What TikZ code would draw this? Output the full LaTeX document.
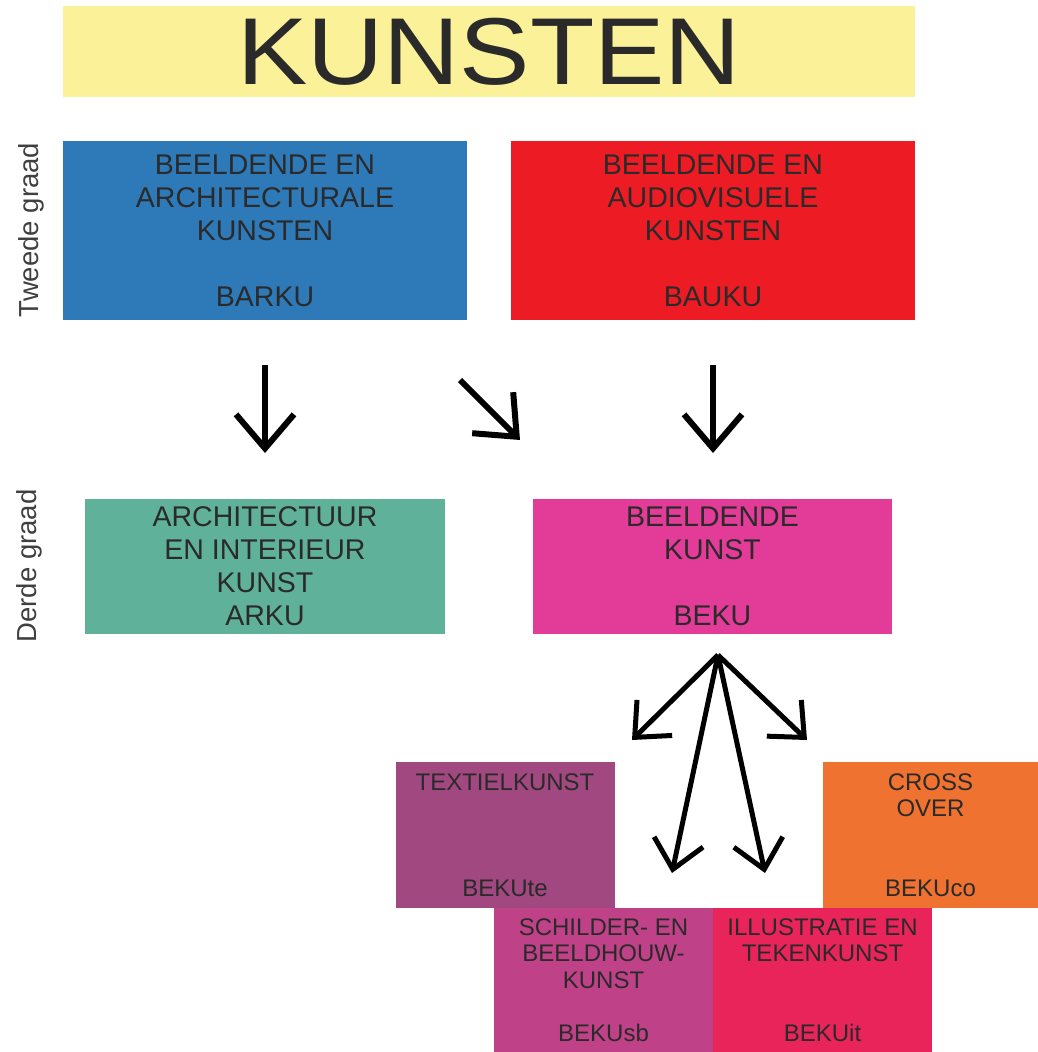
\documentclass[tikz,border=0pt]{standalone}
\usepackage{fontspec}
\setmainfont{Liberation Sans}
\usetikzlibrary{arrows.meta}
\definecolor{geel}{HTML}{FAF199}
\definecolor{blauw}{HTML}{2E79B8}
\definecolor{rood}{HTML}{ED1C24}
\definecolor{groen}{HTML}{5FB199}
\definecolor{roze}{HTML}{E23B98}
\definecolor{paars}{HTML}{A0487F}
\definecolor{oranje}{HTML}{F07230}
\definecolor{fuchsia}{HTML}{BF4288}
\definecolor{framboos}{HTML}{E8245A}
\definecolor{tekst}{HTML}{2B2A2A}
\tikzset{
    vak/.style = {
        rectangle,
        inner sep = 0pt,
        align = center,
        text = tekst,
        },
    groot/.style = {
        vak,
        font = \fontsize{28.5}{33}\selectfont,
        },
    klein/.style = {
        vak,
        font = \fontsize{24}{26.6}\selectfont,
        },
    graad/.style = {
        rotate = 90,
        text = tekst!90,
        font = \fontsize{27.5}{30}\selectfont,
        },
    pijl/.style = {
        draw = black,
        line width = 6pt,
        -{Straight Barb[length=34pt, width=58pt]},
        },
    pijl klein/.style = {
        draw = black,
        line width = 5pt,
        -{Straight Barb[length=28pt, width=50pt]},
        },
}

\begin{document}
\begin{tikzpicture}[x=1pt, y=-1pt]
            \useasboundingbox (0,0) rectangle (1038,1052);

            \node[vak, fill=geel, minimum width=852pt, minimum height=91pt,
                font=\fontsize{95}{95}\selectfont] (titel) at (489,51.5)
                {\scalebox{1.11}[1]{KUNSTEN}};

            \node[graad] (tweede) at (31,230) {Tweede graad};
            \node[graad] (derde) at (29,566) {Derde graad};

            \node[groot, fill=blauw, minimum width=404pt, minimum height=179pt] (barku) at (265,230.5)
                {BEELDENDE EN\\ARCHITECTURALE\\KUNSTEN\\[33pt]BARKU};
            \node[groot, fill=rood, minimum width=404pt, minimum height=179pt] (bauku) at (713,230.5)
                {BEELDENDE EN\\AUDIOVISUELE\\KUNSTEN\\[33pt]BAUKU};

            \node[groot, fill=groen, minimum width=360pt, minimum height=135pt] (arku) at (265,566.5)
                {ARCHITECTUUR\\EN INTERIEUR\\KUNST\\ARKU};
            \node[groot, fill=roze, minimum width=359pt, minimum height=135pt] (beku) at (712.5,566.5)
                {BEELDENDE\\KUNST\\[33pt]BEKU};

            \node[klein, fill=paars, minimum width=219pt, minimum height=146pt] (bekute) at (505,835)
                {TEXTIELKUNST\\[79.8pt]BEKUte};
            \node[klein, fill=oranje, minimum width=215pt, minimum height=146pt] (bekuco) at (930.5,835)
                {CROSS\\OVER\\[53.2pt]BEKUco};
            \node[klein, fill=fuchsia, minimum width=219pt, minimum height=144pt] (bekusb) at (603.5,980)
                {SCHILDER- EN\\BEELDHOUW-\\KUNST\\[26.6pt]BEKUsb};
            \node[klein, fill=framboos, minimum width=219pt, minimum height=144pt] (bekuit) at (822.5,980)
                {ILLUSTRATIE EN\\TEKENKUNST\\[53.2pt]BEKUit};

            % pijlen tweede naar derde graad
            \coordinate (p1) at (265,365);
            \coordinate (q1) at (265,453);
            \coordinate (p2) at (460,380);
            \coordinate (q2) at (520,440);
            \coordinate (p3) at (713,365);
            \coordinate (q3) at (713,453);
            \draw[pijl] (p1) -- (q1);
            \draw[pijl] (p2) -- (q2);
            \draw[pijl] (p3) -- (q3);

            % waaier onder BEKU
            \coordinate (waaier) at (718,655);
            \coordinate (w1) at (632,740);
            \coordinate (w2) at (807,740);
            \coordinate (w3) at (672,873);
            \coordinate (w4) at (765,873);
            \foreach \w in {w1,w2,w3,w4}
                \draw[pijl klein] (waaier) -- (\w);
        \end{tikzpicture}
\end{document}
